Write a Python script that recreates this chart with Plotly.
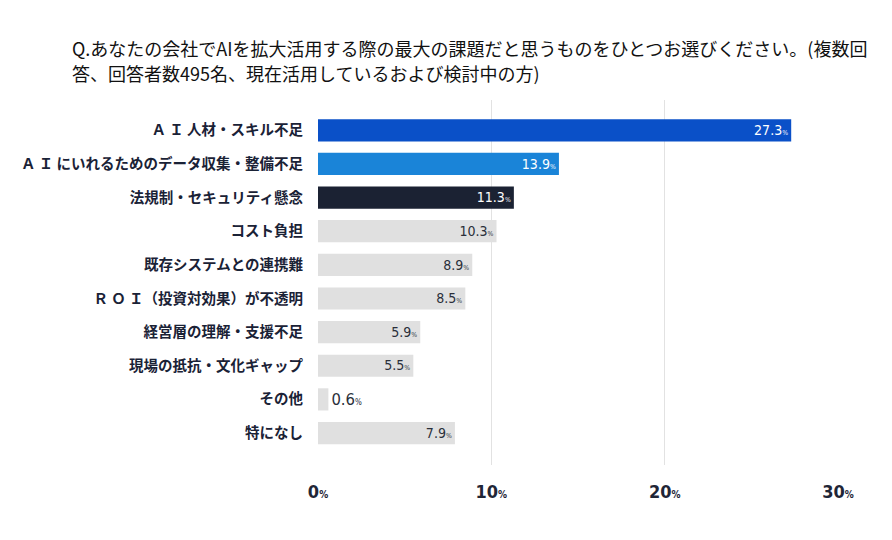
import plotly.graph_objects as go

# 設問と回答（％）
title_lines = ["Q.あなたの会社でAIを拡大活用する際の最大の課題だと思うものをひとつお選びください。(複数回",
               "答、回答者数495名、現在活用しているおよび検討中の方)"]
categories = ["Ａ Ｉ 人材・スキル不足", "Ａ Ｉ にいれるためのデータ収集・整備不足", "法規制・セキュリティ懸念",
              "コスト負担", "既存システムとの連携難", "Ｒ Ｏ Ｉ（投資対効果）が不透明",
              "経営層の理解・支援不足", "現場の抵抗・文化ギャップ", "その他", "特になし"]
values = [27.3, 13.9, 11.3, 10.3, 8.9, 8.5, 5.9, 5.5, 0.6, 7.9]
bar_colors = ["#0a50c8", "#1a84d8", "#1b2233"] + ["#e0e0e0"] * 7
text_colors = ["white"] * 3 + ["#2a2f3a"] * 7
tick_vals = [0, 10, 20, 30]

num_font = "DejaVu Sans Condensed, Liberation Sans Narrow, Roboto, sans-serif"
jp_font = "Noto Sans CJK JP, sans-serif"

labels = [f"{v:.1f}<span style='font-size:8px'>%</span>" for v in values]

fig = go.Figure()
fig.add_trace(go.Bar(
    y=categories,
    x=values,
    orientation="h",
    marker=dict(color=bar_colors, line=dict(width=0)),
    width=0.66,
    text=labels,
    texttemplate="%{text}",
    textposition="auto",
    insidetextanchor="end",
    textfont=dict(family=num_font, size=16.5, color=text_colors),
    outsidetextfont=dict(family=num_font, size=16.5, color="#2a2f3a"),
    cliponaxis=False,
    hoverinfo="skip",
))

# タイトル（2行、行間を広めに）
for i, line in enumerate(title_lines):
    fig.add_annotation(
        text=line,
        xref="paper", yref="paper",
        x=-248 / 520, y=1 + (52 - i * 25) / 365,
        xanchor="left", yanchor="middle",
        showarrow=False,
        font=dict(family=jp_font, size=18, color="#111111"),
    )

# ページ本体の余白(8px)を差し引いたサイズ
fig.update_layout(
    width=884,
    height=532,
    paper_bgcolor="white",
    plot_bgcolor="white",
    showlegend=False,
    margin=dict(l=310, r=54, t=92, b=75),
    xaxis=dict(
        range=[0, 30],
        tickvals=tick_vals,
        ticktext=[f"{t}<span style='font-size:10px'>%</span>" for t in tick_vals],
        tickfont=dict(family=num_font, size=18, color="#1f2637", weight="bold"),
        showgrid=True,
        gridcolor="#e2e2e2",
        gridwidth=1,
        zeroline=False,
        showline=False,
        ticks="",
        ticklabelstandoff=14,
        fixedrange=True,
    ),
    yaxis=dict(
        type="category",
        categoryorder="array",
        categoryarray=categories,
        range=[9.95, -0.9],
        tickfont=dict(family=jp_font, size=14.5, color="#1a2236", weight="bold"),
        showgrid=False,
        zeroline=False,
        showline=False,
        ticks="",
        ticklabelstandoff=14,
        fixedrange=True,
    ),
)

fig.write_html("out.html")
